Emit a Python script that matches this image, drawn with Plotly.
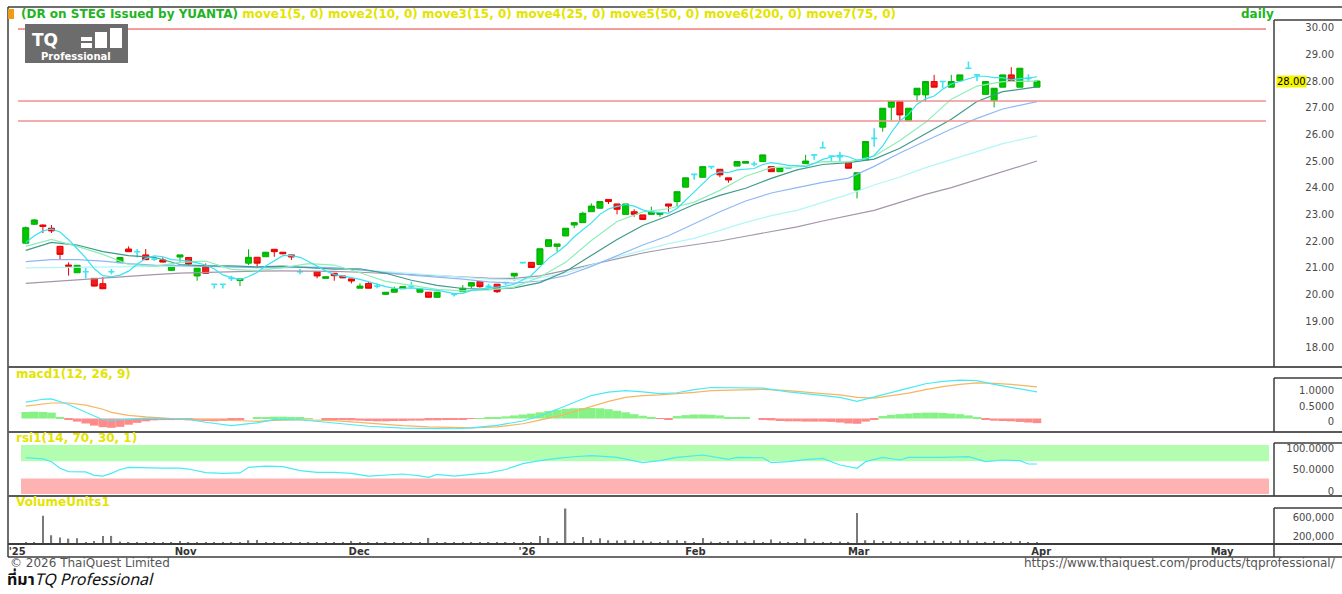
import plotly.graph_objects as go

W, H = 1342, 594
def fx(px): return px / W
def fy(py): return 1 - py / H

# ---------------- data ----------------
title_name = "(DR on STEG Issued by YUANTA)"
title_moves = "move1(5, 0) move2(10, 0) move3(15, 0) move4(25, 0) move5(50, 0) move6(200, 0) move7(75, 0)"

opens = [21.92, 22.63, 22.6, 22.48, 21.8, 21.1, 20.81, 20.85, 20.6, 20.4,
 20.85, 21.19, 21.7, 21.6, 21.48, 21.32, 21.29, 20.9, 21.4, 21.38,
 20.69, 21.06, 20.38, 20.38, 20.6, 20.52, 21.17, 21.39, 21.41, 21.69,
 21.58, 21.48, 20.85, None, 20.85, 20.6, 20.79, 20.69, 20.58, 20.23,
 20.41, 20.31, 20.0, 20.08, 20.21, 20.3, 20.08, 20.08, 19.89, None,
 20.0, 20.1, 20.31, 20.48, 20.3, 20.38, 20.44, 20.69, 21.19, 21.2,
 21.12, 21.8, 21.8, 22.19, 22.6, 22.69, 23.1, 23.23, 23.56, 23.39,
 23.0, 23.1, 22.98, 23.0, 23.0, 23.39, 23.48, 24.02, 24.5, 24.39,
 24.79, 24.69, 24.37, 24.81, 24.92, 24.89, 24.98, 24.79, 24.6, 24.73,
 None, 24.91, 25.23, 25.5, 25.19, 25.16, 24.94, 23.91, 25.04, 25.85,
 26.27, 27.02, 27.23, 26.51, 27.48, 27.48, 27.98, 27.98, 27.77, 28.01,
 28.48, 28.23, 27.5, 27.26, 27.77, 28.23, 27.77, 28.1, 27.77]
highs = [22.55, 22.82, 22.62, 22.6, 21.82, 21.2, 21.1, 21.0, 20.6, 20.65,
 20.95, 21.4, 21.8, 21.7, 21.7, 21.38, 21.39, 21.1, 21.48, 21.38,
 20.98, 21.16, 20.4, 20.4, 20.7, 20.58, 21.69, 21.39, 21.58, 21.7,
 21.58, 21.48, 20.95, None, 20.85, 20.66, 20.79, 20.69, 20.58, 20.41,
 20.47, 20.41, 20.08, 20.29, 20.29, 20.47, 20.2, 20.08, 20.08, None,
 20.0, 20.35, 20.44, 20.48, 20.4, 20.38, 20.44, 20.79, 21.22, 21.2,
 21.71, 22.05, 21.89, 22.48, 22.69, 23.1, 23.41, 23.48, 23.56, 23.39,
 23.39, 23.19, 22.98, 23.29, 23.06, 23.39, 23.85, 24.37, 24.52, 24.79,
 24.8, 24.69, 24.37, 24.98, 24.98, 24.98, 25.23, 24.79, 24.76, 24.76,
 None, 25.23, 25.25, 25.73, 25.2, 25.35, 24.94, 24.56, 25.73, 26.23,
 26.98, 27.23, 27.23, 26.98, 27.73, 27.98, 28.23, 28.0, 28.23, 28.23,
 28.73, 28.25, 27.98, 27.73, 28.23, 28.52, 28.48, 28.25, 28.0]
lows = [21.9, 22.6, 22.3, 22.3, 21.3, 20.7, 20.8, 20.6, 20.3, 20.2,
 20.75, 21.19, 21.6, 21.38, 21.29, 21.25, 21.2, 20.89, 21.22, 21.04,
 20.51, 20.79, 20.22, 20.22, 20.5, 20.31, 21.1, 20.98, 21.41, 21.41,
 21.51, 21.29, 20.75, None, 20.6, 20.6, 20.51, 20.61, 20.41, 20.23,
 20.23, 20.23, 20.0, 20.08, 20.21, 20.21, 20.08, 19.89, 19.89, None,
 19.92, 20.1, 20.23, 20.25, 20.22, 20.05, 20.35, 20.51, 21.15, 21.01,
 21.12, 21.8, 21.6, 22.19, 22.48, 22.69, 23.1, 23.23, 23.39, 23.0,
 23.0, 22.91, 22.81, 23.0, 22.91, 23.1, 23.29, 24.02, 24.3, 24.39,
 24.7, 24.39, 24.19, 24.81, 24.92, 24.8, 24.98, 24.6, 24.6, 24.7,
 None, 24.91, 25.05, 25.5, 24.97, 24.97, 24.73, 23.6, 25.04, 25.54,
 26.1, 26.51, 26.47, 26.51, 27.23, 27.23, 27.77, 27.73, 27.77, 28.01,
 28.45, 28.0, 27.5, 27.01, 27.77, 28.01, 27.77, 27.98, 27.77]
closes = [22.5, 22.79, 22.55, 22.38, 21.5, 21.05, 21.09, 20.85, 20.31, 20.21,
 20.85, 21.38, 21.6, 21.6, 21.3, 21.32, 21.21, 21.09, 21.48, 21.14,
 20.98, 20.79, 20.38, 20.38, 20.6, 20.58, 21.39, 21.17, 21.58, 21.6,
 21.52, 21.4, 20.85, None, 20.69, 20.66, 20.7, 20.62, 20.5, 20.31,
 20.23, 20.31, 20.08, 20.2, 20.29, 20.3, 20.2, 19.89, 20.08, None,
 20.0, 20.23, 20.44, 20.29, 20.3, 20.1, 20.44, 20.79, 21.19, 21.01,
 21.71, 22.05, 21.89, 22.48, 22.69, 23.04, 23.31, 23.48, 23.48, 23.19,
 23.39, 23.0, 22.81, 23.08, 23.06, 23.31, 23.85, 24.37, 24.5, 24.79,
 24.79, 24.48, 24.29, 24.98, 24.98, 24.89, 25.23, 24.6, 24.76, 24.73,
 None, 25.0, 25.23, 25.5, 25.19, 25.16, 24.73, 24.56, 25.73, 25.85,
 26.98, 27.23, 26.73, 26.98, 27.73, 27.98, 27.77, 27.98, 27.98, 28.23,
 28.48, 28.23, 27.98, 27.73, 28.23, 28.01, 28.48, 28.1, 28.0]

# moving averages
move1_ma5 = [21.94, 22.2, 22.38, 22.45, 22.34, 22.05, 21.71, 21.37, 20.96, 20.70,
 20.66, 20.72, 20.87, 21.13, 21.35, 21.44, 21.41, 21.30, 21.28, 21.25,
 21.18, 21.10, 20.95, 20.73, 20.63, 20.55, 20.67, 20.82, 21.06, 21.26,
 21.45, 21.45, 21.39, 21.23, 21.05, 20.88, 20.74, 20.69, 20.63, 20.56,
 20.47, 20.39, 20.29, 20.23, 20.22, 20.24, 20.21, 20.18, 20.15, 20.09,
 20.03, 20.04, 20.15, 20.19, 20.25, 20.27, 20.31, 20.38, 20.56, 20.71,
 21.03, 21.35, 21.57, 21.83, 22.16, 22.43, 22.68, 23.0, 23.2, 23.3,
 23.37, 23.31, 23.17, 23.09, 23.07, 23.05, 23.22, 23.53, 23.82, 24.16,
 24.46, 24.59, 24.57, 24.67, 24.7, 24.72, 24.87, 24.94, 24.89, 24.84,
 24.83, 24.79, 24.91, 25.06, 25.15, 25.22, 25.16, 25.03, 25.07, 25.21,
 25.57, 26.07, 26.5, 26.75, 27.13, 27.33, 27.44, 27.69, 27.89, 27.99,
 28.09, 28.18, 28.18, 28.13, 28.13, 28.04, 28.09, 28.11, 28.16]
ma_idx = [0, 3, 6, 9, 12, 15, 18, 21, 24, 27, 30, 33, 36, 39, 42, 45, 48, 51, 54, 57,
 60, 63, 66, 69, 72, 75, 78, 81, 84, 87, 90, 93, 96, 99, 102, 105, 108, 111, 114, 118]
move2_ma10 = [21.8, 22.06, 21.8, 21.5, 21.12, 21.05, 21.2, 21.25, 20.94, 20.89,
 21.0, 21.15, 21.1, 20.81, 20.49, 20.35, 20.19, 20.13, 20.17, 20.27,
 20.65, 21.2, 22.02, 22.73, 23.09, 23.21, 23.46, 23.9, 24.43, 24.75,
 24.78, 24.98, 24.97, 25.18, 25.77, 26.45, 27.32, 27.81, 27.98, 28.0]
move3_ma15 = [21.65, 21.95, 21.85, 21.6, 21.45, 21.39, 21.12, 21.07, 21.07, 21.03,
 21.06, 21.01, 20.95, 20.96, 20.79, 20.53, 20.34, 20.22, 20.19, 20.24,
 20.44, 20.86, 21.45, 22.06, 22.58, 22.95, 23.37, 23.71, 23.98, 24.35,
 24.67, 24.87, 24.94, 25.07, 25.48, 26.04, 26.57, 27.23, 27.6, 27.78]
move4_ma25 = [21.23, 21.3, 21.3, 21.25, 21.15, 21.1, 21.08, 21.05, 21.02, 21.0,
 21.0, 21.02, 21.0, 20.92, 20.82, 20.72, 20.65, 20.57, 20.47, 20.42,
 20.5, 20.7, 21.05, 21.45, 21.85, 22.2, 22.65, 23.1, 23.5, 23.8,
 24.0, 24.2, 24.36, 24.8, 25.3, 25.75, 26.2, 26.6, 26.95, 27.23]
move5_ma50 = [20.99, 21.0, 21.02, 21.03, 21.05, 21.06, 21.06, 21.05, 21.03, 21.02,
 21.0, 21.0, 20.97, 20.92, 20.85, 20.78, 20.7, 20.63, 20.57, 20.55,
 20.62, 20.8, 21.1, 21.4, 21.65, 21.9, 22.1, 22.4, 22.7, 22.95,
 23.15, 23.45, 23.75, 24.1, 24.4, 24.75, 25.05, 25.35, 25.65, 25.94]
move6_ma200 = [20.41, 20.48, 20.55, 20.61, 20.68, 20.74, 20.8, 20.83, 20.85, 20.87,
 20.88, 20.88, 20.86, 20.83, 20.79, 20.74, 20.7, 20.65, 20.61, 20.6,
 20.69, 20.9, 21.12, 21.35, 21.55, 21.72, 21.85, 22.0, 22.18, 22.36,
 22.53, 22.75, 22.95, 23.15, 23.45, 23.75, 24.0, 24.3, 24.62, 25.0]

resistance_levels = [29.95, 27.25, 26.5]

macd_idx = [0, 2, 3, 5, 7, 9, 10, 12, 14, 17, 19, 21, 24, 27, 29, 32, 36, 40, 44, 47,
 50, 52, 55, 58, 60, 62, 64, 66, 68, 70, 72, 74, 76, 78, 80, 83, 86, 89, 91, 93,
 95, 97, 99, 101, 103, 105, 107, 109, 111, 113, 115, 118]
macd_line = [0.53, 0.62, 0.63, 0.45, 0.2, -0.04, -0.06, -0.03, 0.01, 0.0,
 -0.03, -0.12, -0.23, -0.14, -0.03, -0.04, -0.14, -0.25, -0.31, -0.33,
 -0.33, -0.3, -0.22, -0.08, 0.08, 0.3, 0.52, 0.74, 0.85, 0.9,
 0.86, 0.8, 0.83, 0.93, 1.0, 1.0, 0.98, 0.86, 0.8, 0.76,
 0.68, 0.55, 0.7, 0.85, 0.98, 1.12, 1.2, 1.24, 1.22, 1.1, 1.0, 0.86]
macd_signal = [0.4, 0.47, 0.5, 0.5, 0.43, 0.3, 0.2, 0.1, 0.05, 0.0,
 -0.02, -0.04, -0.08, -0.09, -0.06, -0.04, -0.07, -0.16, -0.23, -0.27,
 -0.3, -0.3, -0.27, -0.17, -0.05, 0.07, 0.22, 0.38, 0.55, 0.68,
 0.74, 0.76, 0.79, 0.84, 0.9, 0.93, 0.94, 0.9, 0.84, 0.8,
 0.76, 0.68, 0.66, 0.73, 0.82, 0.93, 1.03, 1.1, 1.15, 1.13, 1.1, 1.02]
macd_hist = [0.21, 0.22, 0.21, 0.19, 0.05, -0.04, -0.1, -0.16, -0.23, -0.28,
 -0.3, -0.27, -0.2, -0.14, -0.09, -0.06, -0.05, -0.05, -0.05, -0.06,
 -0.07, -0.08, -0.09, -0.08, -0.06, -0.03, 0.0, 0.03, 0.05, 0.06,
 0.06, 0.05, 0.03, 0.01, 0.0, -0.02, -0.04, -0.05, -0.06, -0.07,
 -0.08, -0.09, -0.09, -0.08, -0.08, -0.07, -0.07, -0.06, -0.06, -0.05,
 -0.04, -0.03, -0.01, 0.01, 0.03, 0.05, 0.07, 0.1, 0.13, 0.16,
 0.2, 0.24, 0.28, 0.31, 0.33, 0.34, 0.34, 0.33, 0.3, 0.25,
 0.2, 0.14, 0.09, 0.04, -0.01, -0.02, 0.08, 0.11, 0.13, 0.13,
 0.12, 0.1, 0.05, 0.03, 0.02, 0.0, -0.03, -0.06, -0.08, -0.09,
 -0.09, -0.1, -0.1, -0.1, -0.11, -0.13, -0.16, -0.17, -0.1, -0.02,
 0.08, 0.12, 0.14, 0.16, 0.18, 0.19, 0.19, 0.18, 0.16, 0.14,
 0.1, 0.05, -0.04, -0.07, -0.08, -0.09, -0.11, -0.13, -0.15]

rsi_idx = [0, 1, 2, 3, 4, 5, 6, 7, 8, 9, 10, 11, 12, 14, 16, 18, 19, 21, 23, 25,
 26, 28, 30, 32, 34, 36, 38, 40, 42, 44, 46, 47, 48, 50, 52, 54, 56, 58, 60, 62,
 64, 66, 69, 70, 72, 74, 76, 79, 82, 83, 86, 87, 89, 91, 93, 95, 97, 98, 100, 102,
 103, 107, 110, 112, 114, 116, 117, 118]
rsi_vals = [78.0, 76.9, 75.2, 68.9, 53.4, 45.7, 45.7, 45.0, 37.0, 35.5,
 41.8, 50.7, 55.7, 54.1, 54.1, 54.1, 51.8, 43.3, 41.6, 42.7,
 55.7, 58.7, 57.5, 47.9, 44.1, 43.9, 41.6, 35.5, 37.0, 40.2,
 35.9, 32.5, 39.3, 35.5, 39.3, 42.7, 50.7, 64.4, 71.2, 76.7,
 80.3, 82.8, 78.9, 74.3, 66.5, 71.2, 78.9, 84.4, 74.3, 78.9,
 78.0, 66.5, 68.9, 73.5, 76.7, 61.2, 53.4, 68.9, 78.9, 72.8,
 78.9, 78.9, 80.5, 68.9, 72.8, 71.2, 63.5, 63.5]
rsi_overbought, rsi_oversold = 70, 30

volume = [v * 1000 for v in [28, 28, 575, 168, 120, 98, 105, 28, 49, 154,
 154, 35, 21, 14, 14, 21, 14, 14, 49, 14,
 21, 14, 21, 14, 21, 14, 63, 70, 14, 21,
 14, 21, 14, 14, 21, 14, 21, 14, 49, 14,
 21, 14, 21, 14, 21, 14, 14, 112, 21, 14,
 14, 21, 14, 21, 14, 21, 14, 21, 14, 21,
 154, 112, 35, 728, 35, 133, 63, 105, 63, 56,
 63, 63, 56, 35, 28, 63, 63, 49, 28, 112,
 35, 28, 49, 63, 35, 63, 28, 77, 35, 28,
 28, 98, 35, 28, 28, 35, 28, 632, 63, 63,
 49, 35, 35, 35, 56, 49, 56, 49, 35, 63,
 63, 35, 28, 49, 28, 35, 49, 28, 21]]

month_labels = ["'25", "Nov", "Dec", "'26", "Feb", "Mar", "Apr", "May"]
month_tick_pos = [-1.0, 18.65, 38.9, 58.5, 78.15, 97.2, 118.5, 139.6]

price_ticks = [18, 19, 20, 21, 22, 23, 24, 25, 26, 27, 28, 29, 30]
macd_ticks, macd_ticktext = [0, 0.5, 1.0], ["0", "0.5000", "1.0000"]
rsi_ticks, rsi_ticktext = [0, 50, 100], ["0", "50.0000", "100.0000"]
vol_ticks, vol_ticktext = [200000, 600000], ["200,000", "600,000"]

# ---------------- figure ----------------
FONT = "DejaVu Sans"
GREEN_T, YELLOW_T = "#22b422", "#e4e400"
fig = go.Figure()

n = len(closes)
idx = list(range(n))

ma_styles = [
    ("move6", ma_idx, move6_ma200, "#a496a8"),
    ("move5", ma_idx, move5_ma50, "#b2f6f6"),
    ("move4", ma_idx, move4_ma25, "#90b8f6"),
    ("move3", ma_idx, move3_ma15, "#3f9c8c"),
    ("move2", ma_idx, move2_ma10, "#8eeeb8"),
    ("move1", idx, move1_ma5, "#38e2f2"),
]
for name, xs, ys, col in ma_styles:
    fig.add_trace(go.Scatter(x=xs, y=ys, mode="lines", name=name,
                             line=dict(color=col, width=1.2), yaxis="y", hoverinfo="skip"))

valid = [i for i in idx if closes[i] is not None]
doji = [i for i in valid if abs(opens[i] - closes[i]) < 1e-9]
body = [i for i in valid if i not in doji]

def pick(arr, ids):
    return [arr[i] for i in ids]

fig.add_trace(go.Candlestick(
    x=body, open=pick(opens, body), high=pick(highs, body), low=pick(lows, body), close=pick(closes, body),
    increasing=dict(line=dict(color="#00b000", width=1), fillcolor="#00c800"),
    decreasing=dict(line=dict(color="#e80000", width=1), fillcolor="#f21c1c"),
    whiskerwidth=0, yaxis="y", hoverinfo="skip"))
fig.add_trace(go.Candlestick(
    x=doji, open=pick(opens, doji), high=pick(highs, doji), low=pick(lows, doji), close=pick(closes, doji),
    increasing=dict(line=dict(color="#3ee4f4", width=1.6), fillcolor="#3ee4f4"),
    decreasing=dict(line=dict(color="#3ee4f4", width=1.6), fillcolor="#3ee4f4"),
    whiskerwidth=0, yaxis="y", hoverinfo="skip"))

# MACD
fig.add_trace(go.Bar(x=idx, y=macd_hist, yaxis="y2", width=1.0,
                     marker=dict(color=["#86f286" if v >= 0 else "#ff8a8a" for v in macd_hist], line=dict(width=0))))
fig.add_trace(go.Scatter(x=macd_idx, y=macd_signal, mode="lines", yaxis="y2",
                         line=dict(color="#f8b460", width=1.2)))
fig.add_trace(go.Scatter(x=macd_idx, y=macd_line, mode="lines", yaxis="y2",
                         line=dict(color="#48eaf4", width=1.2)))
# RSI
fig.add_trace(go.Scatter(x=rsi_idx, y=rsi_vals, mode="lines", yaxis="y3",
                         line=dict(color="#48eaf4", width=1.2)))
# Volume
fig.add_trace(go.Bar(x=idx, y=volume, yaxis="y4", width=0.16,
                     marker=dict(color="#7a7a7a", line=dict(width=0))))

axis_font = dict(family=FONT, size=10, color="#4a4a4a")
common_y = dict(side="right", anchor="free", position=fx(1337), ticklabelposition="inside",
                showgrid=False, zeroline=False, showline=False, ticks="", tickfont=axis_font)

fig.update_layout(
    width=W, height=H, margin=dict(l=0, r=0, t=0, b=0),
    paper_bgcolor="white", plot_bgcolor="rgba(0,0,0,0)", showlegend=False,
    barmode="overlay", boxgap=0.3, boxgroupgap=0,
    xaxis=dict(domain=[fx(8), fx(1273)], range=[-2.07, 145.54], anchor="y4",
               showgrid=False, zeroline=False, showline=False, ticks="",
               tickvals=month_tick_pos, ticktext=month_labels,
               tickfont=dict(family=FONT, size=10, color="#333333", weight="bold"),
               rangeslider=dict(visible=False)),
    yaxis=dict(domain=[fy(367), fy(7)], range=[17.276, 30.776],
               tickvals=price_ticks, ticktext=[f"{v:.2f}" for v in price_ticks], **common_y),
    yaxis2=dict(domain=[fy(432), fy(367)], range=[-0.435, 1.661],
                tickvals=macd_ticks, ticktext=macd_ticktext, ticklabelshift=3, **common_y),
    yaxis3=dict(domain=[fy(503), fy(432)], range=[-27.2, 137.9],
                tickvals=rsi_ticks, ticktext=rsi_ticktext, **common_y),
    yaxis4=dict(domain=[fy(544), fy(496)], range=[-15000, 989500],
                tickvals=vol_ticks, ticktext=vol_ticktext, ticklabelshift=3, **common_y),
)

shapes = []
def pline(x0, y0, x1, y1, color="#484848", width=1.5):
    shapes.append(dict(type="line", xref="paper", yref="paper", x0=fx(x0), y0=fy(y0), x1=fx(x1), y1=fy(y1),
                       line=dict(color=color, width=width)))
def prect(x0, y0, x1, y1, fill, layer="above"):
    shapes.append(dict(type="rect", xref="paper", yref="paper", x0=fx(x0), y0=fy(y0), x1=fx(x1), y1=fy(y1),
                       fillcolor=fill, line=dict(width=0), layer=layer))

# RSI zones: overbought zone up to the panel top, oversold zone down to the panel bottom
for lo, hi, col in [(rsi_overbought, 107.7, "#b2fdb0"), (-6.2, rsi_oversold, "#ffb2b2")]:
    shapes.append(dict(type="rect", xref="paper", yref="y3", x0=fx(21), x1=fx(1269), y0=lo, y1=hi,
                       fillcolor=col, line=dict(width=0), layer="below"))
# resistance lines
for k, lv in enumerate(resistance_levels):
    shapes.append(dict(type="line", xref="paper", yref="y", x0=fx(18), x1=fx(1266), y0=lv, y1=lv,
                       line=dict(color="#e63a3a" if k == 0 else "#f29090", width=1 if k == 0 else 1.6)))
# frame
pline(8, 7, 1342, 7, "#3c3c3c", 1.5)
pline(8, 7, 8, 557, "#3c3c3c", 1.5)
for yy in (367, 432, 496):
    pline(8, yy, 1342, yy, "#5a5a5a", 2.2)
pline(8, 544, 1342, 544, "#3c3c3c", 2)
pline(8, 557, 1342, 557, "#3c3c3c", 1.5)
for y0, y1 in ((20, 367), (378, 432), (443, 496), (508, 544), (544, 557)):
    pline(1274, y0, 1274, y1, "#3c3c3c", 1.5)
for yy in (20, 378, 443, 508):
    pline(1274, yy, 1342, yy, "#3c3c3c", 1.5)
# orange marker, logo
prect(8, 9, 14, 19, "#f39a14")
prect(25, 24, 128, 63, "#6c6c6c")
for x0, y0, x1, y1 in ((81, 37, 92, 41), (81, 43, 92, 48), (95, 32, 107, 48), (110, 28, 122, 48)):
    prect(x0, y0, x1, y1, "#ffffff")
fig.update_layout(shapes=shapes)

ann = []
def ptext(x, y, text, size=11, color="#000", xanchor="left", bold=True, family=FONT, **kw):
    ann.append(dict(xref="paper", yref="paper", x=fx(x), y=fy(y), text=text, showarrow=False,
                    xanchor=xanchor, yanchor="middle",
                    font=dict(family=family, size=size, color=color, weight="bold" if bold else "normal"), **kw))

ptext(19, 14, f"<span style='color:{GREEN_T}'>{title_name}</span> "
              f"<span style='color:{YELLOW_T}'>{title_moves}</span>", 12)
ptext(1239, 14, "daily", 12, GREEN_T)
ptext(14, 374, "macd1(12, 26, 9)", 12, YELLOW_T)
ptext(14, 438, "rsi1(14, 70, 30, 1)", 12, YELLOW_T)
ptext(14, 502, "VolumeUnits1", 12, YELLOW_T)
ptext(30, 40, "TQ", 17, "#ffffff")
ptext(76, 57, "Professional", 10, "#ffffff", xanchor="center")
ptext(8, 563, "© 2026 ThaiQuest Limited", 12, "#555555", bold=False)
ptext(1338, 563, "https://www.thaiquest.com/products/tqprofessional/", 12, "#555555", xanchor="right", bold=False)
ann.append(dict(xref="paper", yref="paper", x=fx(5), y=fy(580), xanchor="left", yanchor="middle", showarrow=False,
                text="<b>ที่มา</b><i>TQ Professional</i>",
                font=dict(family="Noto Sans Thai, Loma, Garuda, Tlwg Typo, Noto Sans, sans-serif", size=16, color="#111111")))
ann.append(dict(xref="paper", yref="y", x=fx(1276), y=closes[-1], xanchor="left", yanchor="middle", showarrow=False,
                text=f"{closes[-1]:.2f}", bgcolor="#f4f400", borderpad=0,
                font=dict(family=FONT, size=10, color="#000000")))
fig.update_layout(annotations=ann)

fig.write_html("out.html", config={"displayModeBar": False},
               post_script="document.body.style.margin='0px';document.body.style.overflow='hidden';")
